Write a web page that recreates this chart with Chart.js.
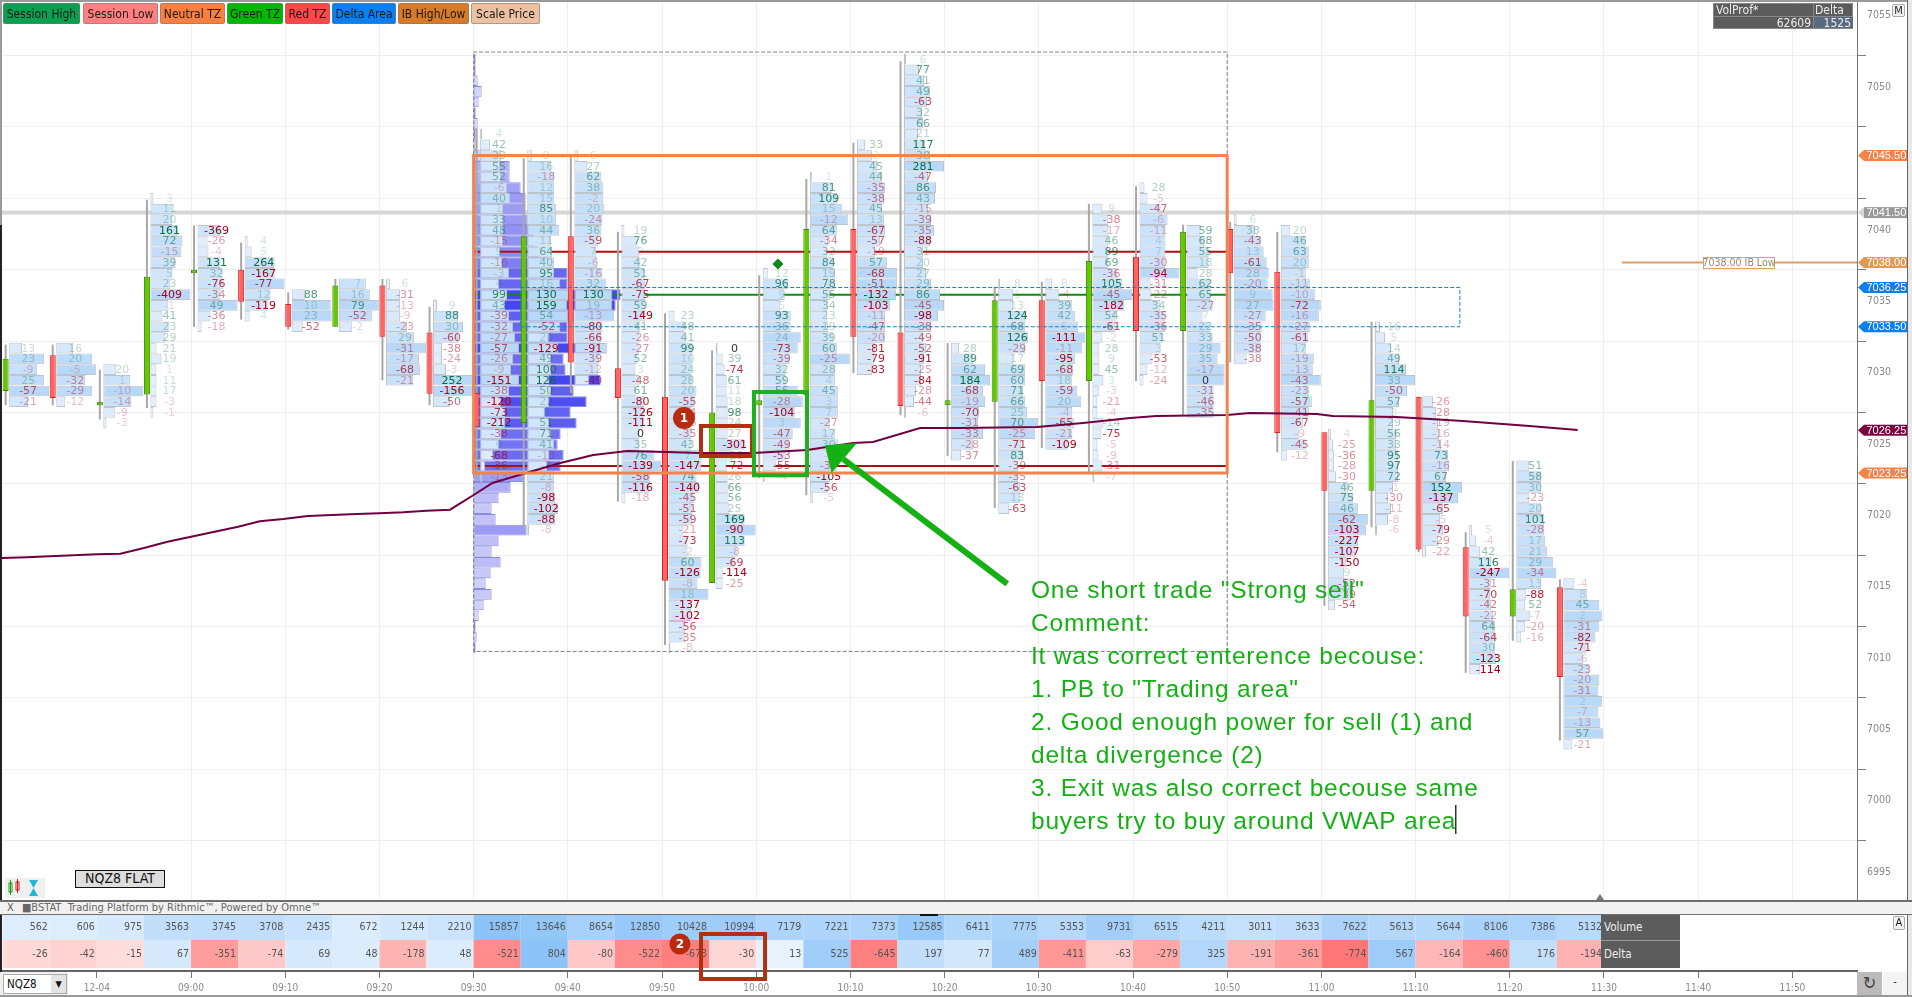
<!DOCTYPE html>
<html><head><meta charset="utf-8">
<script src="https://cdn.jsdelivr.net/npm/chart.js@4/dist/chart.umd.min.js"></script>
<style>
html,body{margin:0;padding:0;background:#fff;overflow:hidden;width:1912px;height:997px}
canvas{position:absolute;left:0;display:block}
.u{position:absolute;box-sizing:border-box;font-family:"DejaVu Sans Condensed","DejaVu Sans",sans-serif;white-space:nowrap}
.btn{top:3px;height:21px;line-height:20px;font-size:12px;color:#1a1a1a;text-align:center;border:1px solid rgba(120,120,120,.55);border-radius:2px}
</style></head><body>
<canvas id="main" width="1912" height="900" style="top:0"></canvas>
<canvas id="strip" width="1912" height="82" style="top:915px"></canvas>
<div id="chrome"></div>
<script>
// ---- data ----
const candleTimes=[520,525,530,535,540,545,550,555,560,565,570,575,580,585,590,595,600,605,610,615,620,625,630,635,640,645,650,655,660,665,670,675,680,685];
const candleOpen =[7029,7031.5,7028,7028.75,7037.25,7037.5,7035.1,7033.5,7036.4,7033.1,7028.85,7026.75,7039.85,7030.6,7028.6,7015.55,7028,7028.7,7040.35,7033.1,7028,7028.25,7035.35,7029.7,7038.4,7033.2,7040.35,7037.35,7026.1,7022,7028.6,7018.05,7013.2,7015.25];
const candleClose=[7031.25,7028.5,7028.25,7037,7037.5,7035.25,7033.5,7036.4,7032.8,7028.8,7026.5,7039.85,7031,7028.5,7015.7,7027.5,7028.35,7040.35,7032.8,7027.95,7028.35,7035.35,7029.7,7038.1,7033.2,7040.15,7037.25,7026.05,7022,7028.35,7017.9,7013.2,7015.1,7008.95];
const candleHigh =[7032.25,7032.25,7030.5,7042.4,7040.6,7039.4,7035.9,7036.85,7036.85,7034.9,7047.4,7045.3,7045.4,7040.15,7034.45,7031.85,7037.1,7043.85,7046.4,7052.1,7032.35,7036.3,7036.65,7042.1,7043.35,7040.65,7040.85,7040.15,7026.1,7033.85,7028.6,7019.1,7024.1,7015.8];
const candleLow  =[7028,7028,7027,7027.8,7033.5,7034,7033.3,7033.5,7029.75,7028,7022.75,7019.5,7028.85,7021.25,7011.2,7015.55,7022.9,7021.7,7030.25,7027.3,7024.45,7020.8,7025,7023.3,7029.7,7027.3,7031,7024.7,7013.95,7019.45,7017.7,7009.25,7011.5,7004.5];
const rowTopPrices=[7032,7032,7030.5,7042.5,7040.25,7039.5,7035.75,7036.5,7036.5,7035,7047,7045.5,7045.5,7040.25,7034.25,7032,7037.25,7044,7046.25,7052.25,7032,7036.5,7036.5,7041.75,7043.25,7040.25,7041,7040.25,7026,7033.5,7028.25,7019.25,7023.75,7015.5];
const rowDeltas=[
[13,23,-9,25,-57,-21],
[16,20,-5,-32,-29,-12],
[20,1,-10,-14,-9,-3],
[3,11,20,161,72,-15,39,5,23,-409,-1,41,23,29,21,19,1,11,17,-3,-1],
[-369,-26,-4,131,32,-76,-34,49,-36,-18],
[4,5,264,-167,-77,12,-119,4],
[88,10,23,-52],
[7,16,79,-52,-2],
[6,-31,-13,-9,-23,29,-31,-17,-68,-21],
[9,88,30,-60,-38,-24,-3,252,-156,-50],
[4,42,33,55,52,-6,40,1,33,48,-15,9,-16,-3,4,99,43,-39,-32,-27,-57,-26,-9,-151,-38,-120,-73,-212,-38,6,-68,-36,-13],
[9,16,-18,12,15,85,10,44,11,64,40,95,16,130,159,54,-52,20,-129,49,100,126,50,22,8,51,71,41,-13,-7,21,-8,-98,-102,-88,-8],
[6,27,62,38,-2,20,-24,36,-59,7,-6,-16,32,130,19,-13,-80,-66,-91,-39,-12,-49],
[19,76,2,42,51,-67,-75,59,-149,41,-26,-27,52,3,-48,61,-80,-126,-111,0,35,76,-139,-58,-116,-18],
[23,48,41,99,10,24,28,20,-55,-34,-26,-35,43,7,-147,74,-140,-45,-51,-59,-21,-73,-2,60,-126,-8,18,-137,-102,-56,-35,-8],
[0,39,-74,61,11,18,98,24,27,-301,-13,-72,26,66,56,25,169,-90,113,-8,-69,-114,-25],
[12,96,9,5,93,36,24,-73,-39,32,59,56,-28,-104,3,-47,-49,-53,-55,-4],
[1,81,109,15,-12,64,-34,32,84,19,78,55,34,23,19,39,60,-25,28,4,45,3,7,-27,17,30,-2,-37,-105,-56,-5],
[33,2,45,44,-35,-38,45,13,-67,-57,-19,57,-68,-51,-132,-103,-11,-47,-20,-81,-79,-83],
[6,77,41,49,-63,32,66,21,117,38,281,-47,86,43,-15,-39,-35,-88,31,20,27,29,86,-45,-98,-38,-49,-52,-91,-25,-84,-28,-44,-6],
[28,89,62,184,-68,-19,-70,-31,-33,-28,-37],
[8,1,13,124,68,126,-29,17,69,60,71,66,25,70,-25,-71,83,-39,-35,-63,13,-63],
[8,-4,39,42,5,-111,-11,-95,-68,18,-59,20,-4,-65,-21,-109],
[9,-38,-17,46,89,69,-36,105,-45,-182,54,-61,-2,28,9,45,3,-3,-21,-4,-14,-75,-5,-9,-31,-7],
[28,-5,-47,-6,-11,4,7,-30,-94,-31,-22,34,-35,-36,51,3,-53,-12,-24],
[59,68,55,18,28,62,65,-27,7,22,33,29,35,-17,0,-31,-46,-35],
[6,38,-43,13,-61,28,-20,9,27,-27,-35,-50,-38,-38],
[20,46,63,20,-1,-11,-10,-72,-16,-27,-61,17,-19,-13,-43,-23,-57,-41,-67,-9,-45,-12],
[4,-25,-36,-28,-30,46,75,46,-62,-103,-227,-107,-150,9,-52,-39,-54],
[16,5,14,49,114,33,-50,57,3,29,56,33,95,97,72,-1,-30,-11,-8,-6],
[-26,-28,-19,-16,-14,73,-16,67,152,-137,-65,-5,-79,-29,-22],
[5,-4,42,116,-247,-31,-70,-42,-22,64,-64,30,-123,-114],
[51,58,30,-23,20,101,-28,17,21,29,-34,13,-88,52,-7,-20,-16],
[-4,8,45,2,-31,-82,-71,-6,-23,-20,-31,2,-7,-13,57,-21]];
const rowVolumes=[
[13,35,28,35,40,19],
[17,36,40,29,36,9],
[13,27,40,28,12,3],
[3,22,22,27,32,31,25,22,20,40,18,12,19,15,6,11,6,6,6,6,3],
[23,10,11,23,25,26,23,40,13,4],
[3,7,30,30,40,26,23,5],
[13,39,40,11],
[27,31,40,33,13],
[4,14,14,14,21,28,40,33,34,27],
[4,25,30,25,9,9,13,40,40,17],
[2,10,21,20,21,27,30,23,23,23,23,20,22,29,19,27,25,29,33,35,39,33,31,39,29,21,25,25,21,19,13,5,2],
[5,24,27,27,27,29,29,32,24,25,27,27,33,42,40,41,33,22,31,24,24,22,24,22,18,22,24,27,22,20,27,27,28,31,28,2],
[4,13,27,29,29,30,28,27,24,22,23,28,32,38,38,40,28,27,33,25,24,15],
[3,16,18,19,23,24,24,24,24,19,18,18,16,14,18,14,23,23,22,18,18,33,40,29,28,4],
[6,16,18,24,24,23,24,28,26,23,23,23,23,33,33,28,31,26,24,24,15,19,19,33,32,29,40,23,23,17,17,2],
[2,7,9,11,11,12,12,12,12,29,16,11,12,12,12,14,29,40,29,22,19,7,7],
[5,25,22,17,28,28,38,35,27,23,23,35,40,32,38,30,27,23,13,2],
[2,22,27,32,38,27,18,17,23,25,25,20,18,17,18,23,27,40,25,25,28,28,28,20,25,28,21,27,20,18,3],
[8,15,20,25,28,27,25,27,28,23,18,30,40,40,39,33,28,28,28,18,17,15],
[2,15,20,26,23,18,19,14,21,26,40,24,32,31,24,27,30,26,19,19,22,27,36,40,34,27,19,22,20,17,17,12,10,2],
[8,22,34,39,32,34,28,27,32,22,10],
[2,15,15,27,27,30,27,15,27,27,25,27,29,40,37,23,25,20,20,22,22,11],
[7,14,27,30,33,40,37,30,28,27,32,36,27,29,27,22],
[10,16,16,16,16,16,25,30,40,32,23,23,10,7,7,7,11,7,5,5,11,9,5,6,10,2],
[5,8,21,28,26,26,26,26,40,11,12,21,26,26,23,21,13,8,4],
[14,18,22,22,11,24,24,26,16,24,26,34,31,38,38,27,27,27],
[3,21,27,30,33,35,34,39,40,32,28,27,27,13],
[9,25,28,28,25,29,34,40,38,29,27,25,33,32,40,28,31,28,22,18,25,6],
[3,5,6,6,8,20,25,30,40,38,30,27,18,16,23,23,7],
[5,10,16,24,31,40,32,24,18,18,21,21,23,23,23,18,13,16,13,2],
[11,14,16,17,19,26,27,24,40,36,21,18,21,16,4],
[3,7,11,22,40,22,21,22,24,26,26,26,27,11],
[13,25,25,13,25,28,28,29,31,37,40,25,10,9,14,9,5],
[11,24,36,39,36,32,23,20,26,36,35,39,35,37,40,9]];
const profileTopPrice=7052.25;
const profileVolumes=[2,2,4,8,5,2,4,2,3,8,36,36,47,52,52,54,60,60,65,75,94,94,147,142,100,94,94,132,90,92,127,100,113,97,103,87,84,90,87,50,37,25,18,22,53,25,18,27,17,12,18,10,5,2,3,2];
const vwapTimes =[520,522.6,525,527.5,530,532.5,535,537.5,540,542.5,545,547.3,549.8,552.4,555,557.6,560,562.5,565,567.5,570,572,575.2,579.2,582.7,586.3,590.5,594,599.7,605.4,610.3,612.4,617.4,621.6,629.8,634.7,639.7,642.5,650,652.4,659.5,661.2,668,675,682.1,687.1];
const vwapPrices=[7017.29,7017.34,7017.41,7017.48,7017.55,7017.6,7018,7018.44,7018.79,7019.14,7019.49,7019.87,7020.03,7020.24,7020.31,7020.38,7020.43,7020.5,7020.61,7020.68,7021.71,7022.55,7023.18,7023.95,7024.52,7024.8,7024.73,7024.66,7024.66,7024.87,7025.36,7025.43,7026.41,7026.41,7026.48,7026.76,7027.11,7027.25,7027.32,7027.46,7027.39,7027.25,7027.18,7026.9,7026.55,7026.27];
const barVolume=[562,606,975,3563,3745,3708,2435,672,1244,2210,15857,13646,8654,12850,10428,10994,7179,7221,7373,12585,6411,7775,5353,9731,6515,4211,3011,3633,7622,5613,5644,8106,7386,5132];
const barDelta=[-26,-42,-15,67,-351,-74,69,48,-178,48,-521,804,-80,-522,-673,-30,13,525,-645,197,77,489,-411,-63,-279,325,-191,-361,-774,567,-164,-460,176,-194];
const tagPrices=[7045.5,7041.5,7038,7036.25,7033.5,7026.25,7023.25];
const tagColors=['#f5824a','#9a9a9a','#e09a58','#0a7ff0','#0a7ff0','#7a0040','#f5824a'];
const annotationLines=['One short trade "Strong sell"','Comment:','It was correct enterence becouse:','1. PB to "Trading area"','2. Good enough power for sell (1) and','delta divergence (2)','3. Exit was also correct becouse same','buyers try to buy around VWAP area'];

// ---- scale geometry ----
const PX_PER_MIN=9.42, PX_PER_PT=14.27;
const xMin=519.72, xMax=716.86, yMax=7056.398, yMin=6993.33;
const FONT='"DejaVu Sans"', COND='"DejaVu Sans Condensed"';
const px=m=>m/PX_PER_MIN;
const cx=t=>t+px(3);
const lerp=(a,b,t)=>a.map((v,i)=>Math.round(v+(b[i]-v)*t));
const rgb=c=>`rgb(${c[0]},${c[1]},${c[2]})`;

const rowsData=[],bodyData=[],wickData=[];
candleTimes.forEach((t,i)=>{
  wickData.push({x:cx(t),y:[candleLow[i],candleHigh[i]]});
  bodyData.push({x:cx(t),y:[Math.min(candleOpen[i],candleClose[i]),Math.max(candleOpen[i],candleClose[i])],up:candleClose[i]>candleOpen[i]});
  rowDeltas[i].forEach((d,j)=>{
    const s=cx(t)+px(3.5);
    rowsData.push({x:[s,s+px(rowVolumes[i][j])],y:rowTopPrices[i]-0.75*j,w:rowVolumes[i][j],d});
  });
});
const profileData=profileVolumes.map((w,j)=>({x:[570,570+px(w)],y:profileTopPrice-0.75*j,w}));
const xy=(xs,ys)=>xs.map((x,i)=>({x,y:ys[i]}));
const box=(x0,x1,y0,y1)=>[{x:x0,y:y0},{x:x1,y:y0},{x:x1,y:y1},{x:x0,y:y1},{x:x0,y:y0}];
const barBase={grouped:false,categoryPercentage:1000,barPercentage:1,borderSkipped:false,inflateAmount:0};
const line=(label,data,color,width,order,extra)=>Object.assign({type:'line',label,data,borderColor:color,borderWidth:width,pointRadius:0,tension:0,fill:false,order,borderCapStyle:'square',borderJoinStyle:'miter'},extra||{});

const datasets=[
 line('Price',[{x:xMin,y:7041.5},{x:xMax,y:7041.5}],'#d6d6d6',4,20),
 line('IB Low',[{x:692,y:7038},{x:xMax,y:7038}],'#e0a060',2,19),
 Object.assign({type:'bar',label:'VolProf',indexAxis:'y',data:profileData,maxBarThickness:10.67,borderWidth:1,borderColor:'#8a8adc',
   backgroundColor:c=>rgb(lerp([222,222,250],[70,70,240],Math.min(1,(c.raw?c.raw.w:0)/120))),order:18},barBase),
 line('IB High',[{x:570,y:7038.75},{x:650,y:7038.75}],'#b01010',2,17),
 line('IB Low line',[{x:570,y:7023.75},{x:650,y:7023.75}],'#b01010',2,17),
 line('POC',[{x:570,y:7035.75},{x:650,y:7035.75}],'#108a18',2,17),
 Object.assign({type:'bar',label:'Rows',indexAxis:'y',data:rowsData,maxBarThickness:10.67,borderWidth:1,borderColor:'#bcc4cc',
   backgroundColor:c=>rgb(lerp([236,244,254],[184,216,249],Math.min(1,(c.raw?c.raw.w:0)/40))),order:15},barBase),
 Object.assign({type:'bar',label:'Wicks',indexAxis:'x',data:wickData,maxBarThickness:2,backgroundColor:'#a8a8a8',borderWidth:0,order:14},barBase),
 Object.assign({type:'bar',label:'Bodies',indexAxis:'x',data:bodyData,maxBarThickness:6,borderWidth:1,
   backgroundColor:c=>c.raw&&c.raw.up?'#62c800':'#ff6464',borderColor:c=>c.raw&&c.raw.up?'#3f8a00':'#d82020',order:13},barBase),
 line('Session box',box(570,650,7052.75,7010.75),'#808080',1,12,{borderDash:[3,3]}),
 line('VWAP',xy(vwapTimes,vwapPrices),'#700040',2,11),
 line('Delta area',box(575,674.7,7036.25,7033.5),'#1a82c4',1,10,{borderDash:[3,3]}),
 line('Trading zone',box(570,650,7045.5,7023.25),'#f0844c',3,9),
 line('Exit box',box(599.76,605.39,7028.93,7023.1),'#1eb01e',4,8),
 line('Signal box',box(594.14,599.55,7026.54,7024.44),'#b03010',4,8),
 line('Arrow',[{x:626.4,y:7015.61},{x:609.5,y:7024.1}],'#14b014',6,7),
 {type:'scatter',label:'Marker',data:[{x:602.3,y:7037.9}],pointStyle:'rectRot',pointRadius:5,backgroundColor:'#0a8a20',borderColor:'#0a8a20',order:6},
 {type:'scatter',label:'Badge',data:[{x:592.33,y:7027.1}],pointRadius:11,pointBorderWidth:0,backgroundColor:'#b82b10',borderColor:'#b82b10',order:5}
];
const rowsIndex=datasets.findIndex(d=>d.label==='Rows');

function textColor(d){
  if(d===0) return '#333';
  const m=Math.abs(d);
  return d>0?`rgba(0,110,60,${Math.min(1,0.15+m/160)})`:`rgba(170,0,20,${Math.min(1,0.18+m/120)})`;
}
const overlay={
 id:'overlay',
 afterDatasetDraw(chart,args){
   if(args.index!==rowsIndex) return;
   const {ctx,scales:{x,y}}=chart;
   ctx.save();
   ctx.font='11px '+FONT; ctx.textAlign='center'; ctx.textBaseline='middle';
   candleTimes.forEach((t,i)=>{
     const lx=x.getPixelForValue(cx(t))+22.5;
     rowDeltas[i].forEach((d,j)=>{
       ctx.fillStyle=textColor(d);
       ctx.fillText(String(d),lx,y.getPixelForValue(rowTopPrices[i]-0.75*j)+0.5);
     });
   });
   ctx.restore();
 },
 afterDatasetsDraw(chart){
   const {ctx,scales:{x,y}}=chart;
   ctx.save();
   // arrow head
   const P=(t,p)=>[x.getPixelForValue(t),y.getPixelForValue(p)];
   ctx.fillStyle='#14b014';
   ctx.beginPath();
   [[607.3,7025.2],[610.7,7025.35],[608,7023.25]].forEach(([t,p],i)=>{const q=P(t,p);i?ctx.lineTo(q[0],q[1]):ctx.moveTo(q[0],q[1]);});
   ctx.closePath();ctx.fill();
   // badge digit
   const b=P(592.33,7027.1);
   ctx.fillStyle='#fff';ctx.font='bold 12px '+FONT;ctx.textAlign='center';ctx.textBaseline='middle';
   ctx.fillText('1',b[0],b[1]+0.5);
   // IB Low label
   const ib=y.getPixelForValue(7038);
   ctx.fillStyle='#fff';ctx.strokeStyle='#e0a060';ctx.lineWidth=1;
   ctx.fillRect(1703.5,ib-5,71,11);ctx.strokeRect(1703.5,ib-5,71,11);
   ctx.fillStyle='#8a8a8a';ctx.font='10.5px '+COND;ctx.fillText('7038.00 IB Low',1739,ib+0.5);
   // annotation text
   ctx.fillStyle='#14b014';ctx.font='24.5px "Liberation Sans"';ctx.textAlign='left';ctx.textBaseline='alphabetic';
   if('letterSpacing' in ctx) ctx.letterSpacing='0.8px';
   annotationLines.forEach((s,i)=>ctx.fillText(s,1031,597.7+33*i));
   if('letterSpacing' in ctx) ctx.letterSpacing='0px';
   ctx.fillStyle='#333';ctx.fillRect(1455,805,1.5,29);
   // price tags
   ctx.font='11px "Liberation Sans"';ctx.textBaseline='middle';ctx.textAlign='left';
   tagPrices.forEach((p,i)=>{
     const py=y.getPixelForValue(p);
     ctx.fillStyle=i===1?'#d8d8d8':tagColors[i];
     ctx.beginPath();ctx.moveTo(1858,py);ctx.lineTo(1864,py-5.5);ctx.lineTo(1864,py+5.5);ctx.closePath();ctx.fill();
     ctx.fillStyle=tagColors[i];ctx.fillRect(1864,py-5.5,43,11);
     ctx.fillStyle='#fff';ctx.fillText(p.toFixed(2),1866.5,py+0.5);
   });
   ctx.restore();
 }
};
const zero=s=>{s.paddingTop=0;s.paddingBottom=0;s.paddingLeft=0;s.paddingRight=0;};
const isMajor=c=>c.tick&&c.tick.value%5===0;

new Chart(document.getElementById('main'),{
 type:'bar',
 data:{datasets},
 plugins:[overlay],
 options:{
  responsive:false,animation:false,devicePixelRatio:1,
  layout:{padding:0,autoPadding:false},
  plugins:{legend:{display:false},tooltip:{enabled:false}},
  scales:{
   x:{type:'linear',min:xMin,max:xMax,offset:false,position:'bottom',
      grid:{color:c=>c.tick&&c.tick.value>=540?'#eeeeee':'rgba(0,0,0,0)',lineWidth:1,drawTicks:false,offset:false},border:{display:false},
      ticks:{display:false,stepSize:10,includeBounds:false},
      afterFit:s=>{s.height=0;zero(s);}},
   y:{type:'linear',min:yMin,max:yMax,position:'right',offset:false,beginAtZero:false,
      grid:{color:c=>isMajor(c)?'#eeeeee':'rgba(0,0,0,0)',tickLength:9,tickColor:'#808080',
            tickBorderDash:c=>isMajor(c)?[]:[3,100]},
      border:{color:'#777',width:1},
      ticks:{stepSize:1,includeBounds:false,autoSkip:false,maxRotation:0,padding:1,color:'#8a8a8a',
             font:{family:'"DejaVu Sans Condensed"',size:10.5,lineHeight:0.8},
             callback:v=>v%5===0?[String(v),'']:null},
      afterFit:s=>{s.width=55;zero(s);}}
  }
 }
});

// ---- bottom strip ----
const stripRowVol=43.5, stripRowDelta=17;
const volColor=v=>rgb(lerp([240,247,254],[140,195,248],Math.sqrt(v/15857)));
const deltaColor=d=>d<0?rgb(lerp([255,238,238],[255,118,118],Math.sqrt(-d/774))):rgb(lerp([244,249,254],[140,195,248],Math.sqrt(d/804)));
const stripPlugin={
 id:'stripText',
 afterDatasetsDraw(chart){
   const {ctx,scales:{x,y}}=chart;
   ctx.save();
   ctx.font='10.5px '+COND;ctx.textAlign='right';ctx.textBaseline='middle';ctx.fillStyle='#555';
   candleTimes.forEach((t,i)=>{
     const rx=x.getPixelForValue(t+5)-2;
     ctx.fillText(String(barVolume[i]),rx,y.getPixelForValue(stripRowVol));
     ctx.fillText(String(barDelta[i]),rx,y.getPixelForValue(stripRowDelta));
   });
   const x0=x.getPixelForValue(594.14),x1=x.getPixelForValue(600.94);
   ctx.strokeStyle='#b03010';ctx.lineWidth=4;
   ctx.strokeRect(x0,y.getPixelForValue(37),x1-x0,45);
   const bx=x.getPixelForValue(591.9),by=y.getPixelForValue(27);
   ctx.fillStyle='#b82b10';ctx.beginPath();ctx.arc(bx,by,10.5,0,Math.PI*2);ctx.fill();
   ctx.fillStyle='#fff';ctx.font='bold 12px '+FONT;ctx.textAlign='center';ctx.fillText('2',bx,by+0.5);
   ctx.restore();
 }
};
const timeLabels=v=>{
  if(v===530) return '12-04';
  if(v<540) return '';
  const h=Math.floor(v/60),m=v%60;
  return String(h).padStart(2,'0')+':'+String(m).padStart(2,'0');
};
new Chart(document.getElementById('strip'),{
 type:'bar',
 data:{datasets:[
  Object.assign({label:'Volume',indexAxis:'y',data:candleTimes.map((t,i)=>({x:[t,t+5],y:stripRowVol,v:barVolume[i]})),maxBarThickness:25,borderWidth:0,
    backgroundColor:c=>c.raw?volColor(c.raw.v):'#fff'},barBase),
  Object.assign({label:'Delta',indexAxis:'y',data:candleTimes.map((t,i)=>({x:[t,t+5],y:stripRowDelta,v:barDelta[i]})),maxBarThickness:28,borderWidth:0,
    backgroundColor:c=>c.raw?deltaColor(c.raw.v):'#fff'},barBase)
 ]},
 plugins:[stripPlugin],
 options:{
  responsive:false,animation:false,devicePixelRatio:1,
  layout:{padding:{right:55},autoPadding:false},
  plugins:{legend:{display:false},tooltip:{enabled:false}},
  scales:{
   x:{type:'linear',min:xMin,max:xMax,offset:false,position:'bottom',
      grid:{drawOnChartArea:false,tickLength:7,tickColor:'#777',offset:false},
      border:{color:'#666',width:2},
      ticks:{stepSize:10,includeBounds:false,autoSkip:false,maxRotation:0,padding:4,color:'#8a8a8a',
             font:{family:'"DejaVu Sans Condensed"',size:10},callback:timeLabels},
      afterFit:s=>{s.height=26;zero(s);}},
   y:{type:'linear',min:0,max:56,display:false,beginAtZero:false,offset:false}
  }
 }
});

// ---- window chrome ----
const legendButtons=[['Session High',3,77,'#0aa050'],['Session Low',83,75,'#ff8080'],['Neutral TZ',160,65,'#f98040'],['Green TZ',227,56,'#00b800'],['Red TZ',285,45,'#ff4848'],['Delta Area',332,64,'#0a80f0'],['IB High/Low',398,71,'#d97a28'],['Scale Price',471,69,'#ecc0a0']];
let h='';
legendButtons.forEach(b=>{h+=`<div class="u btn" style="left:${b[1]}px;width:${b[2]}px;background:${b[3]}">${b[0]}</div>`;});
const div=(s,t)=>`<div class="u" style="${s}">${t||''}</div>`;
h+=div('left:0;top:0;width:2px;height:997px;background:#9a9a9a');
h+=div('left:0;top:225px;width:2px;height:772px;background:#222');
h+=div('left:0;top:0;width:1912px;height:2px;background:#9a9a9a');
h+=div('left:1907px;top:0;width:1px;height:997px;background:#666');
h+=div('left:1908px;top:0;width:4px;height:997px;background:#e8e8e8');
h+=div('left:1713px;top:3px;width:140px;height:26px;background:#5c5c5c;border:1px solid #888;color:#e8e8e8;font-size:12px');
h+=div('left:1716px;top:3px;color:#eee;font-size:12px;line-height:14px','VolProf*');
h+=div('left:1813px;top:3px;width:1px;height:26px;background:#888');
h+=div('left:1814px;top:16px;width:39px;height:12px;background:#5a6a80');
h+=div('left:1815px;top:3px;color:#eee;font-size:12px;line-height:14px','Delta');
h+=div('left:1713px;top:16px;width:140px;height:1px;background:#888');
h+=div('left:1713px;top:16px;width:98px;text-align:right;color:#eee;font-size:12px;line-height:14px','62609');
h+=div('left:1814px;top:16px;width:37px;text-align:right;color:#eee;font-size:12px;line-height:14px','1525');
h+=div('left:1892px;top:4px;width:13px;height:13px;border:1px solid #aaa;border-radius:2px;background:#f4f4f4;font-size:11px;line-height:11px;text-align:center;color:#222','M');
h+=div('left:75px;top:870px;width:90px;height:18px;background:#ddd;border:1.5px solid #111;font-size:14px;line-height:15px;text-align:center;color:#111','NQZ8 FLAT');
h+=`<svg class="u" style="left:5px;top:878px" width="40" height="20"><rect x="0" y="0" width="40" height="20" fill="#f0f0f0"/><rect x="4" y="5" width="3" height="9" fill="#fff" stroke="#1a9a1a"/><line x1="5.5" y1="2" x2="5.5" y2="17" stroke="#1a9a1a"/><rect x="11" y="4" width="3" height="8" fill="#fff" stroke="#d02020"/><line x1="12.5" y1="1" x2="12.5" y2="15" stroke="#d02020"/><path d="M24 2h9l-4.5 8 4.5 8h-9l4.5-8z" fill="#22b8d8"/></svg>`;
h+=div('left:0;top:900px;width:1912px;height:15px;background:#f1f1f1;border-top:2px solid #6e6e6e;border-bottom:1px solid #6e6e6e');
h+=div('left:7px;top:902px;color:#555;font-size:11px;line-height:12px','X');
h+=div('left:22px;top:902px;color:#666;font-size:11px;line-height:12px','■BSTAT  &nbsp;Trading Platform by Rithmic™, Powered by Omne™');
h+=div('left:1596px;top:894px;width:0;height:0;border-left:4px solid transparent;border-right:4px solid transparent;border-bottom:6px solid #777');
h+=div('left:920px;top:914px;width:18px;height:2px;background:#111');
h+=div('left:1601px;top:915px;width:79px;height:26px;background:#5c5c5c;border-bottom:1px solid #999;color:#eee;font-size:11.5px;line-height:25px;padding-left:3px','Volume');
h+=div('left:1601px;top:941px;width:79px;height:27px;background:#5c5c5c;color:#eee;font-size:11.5px;line-height:26px;padding-left:3px','Delta');
h+=div('left:1893px;top:916px;width:12px;height:14px;border:1px solid #aaa;border-radius:2px;background:#f4f4f4;font-size:11px;line-height:12px;text-align:center;color:#222','A');
h+=div('left:0;top:972px;width:68px;height:24px;background:#f0f0f0');
h+=div('left:3px;top:974px;width:64px;height:20px;background:#fff;border:1px solid #aaa;font-size:11.5px;line-height:18px;padding-left:3px;color:#111','NQZ8<span style="position:absolute;right:0;top:0;width:15px;height:18px;background:#e4e4e4;text-align:center;font-size:9px">▼</span>');
h+=div('left:1857px;top:972px;width:25px;height:24px;background:#bbb;font-size:18px;line-height:22px;text-align:center;color:#444','↻');
h+=div('left:1883px;top:972px;width:24px;height:24px;background:#f4f4f4;font-size:11px;line-height:20px;text-align:center;color:#222','-');
h+=div('left:0;top:995px;width:1912px;height:2px;background:#999');
document.getElementById('chrome').innerHTML=h;
</script>
</body></html>
